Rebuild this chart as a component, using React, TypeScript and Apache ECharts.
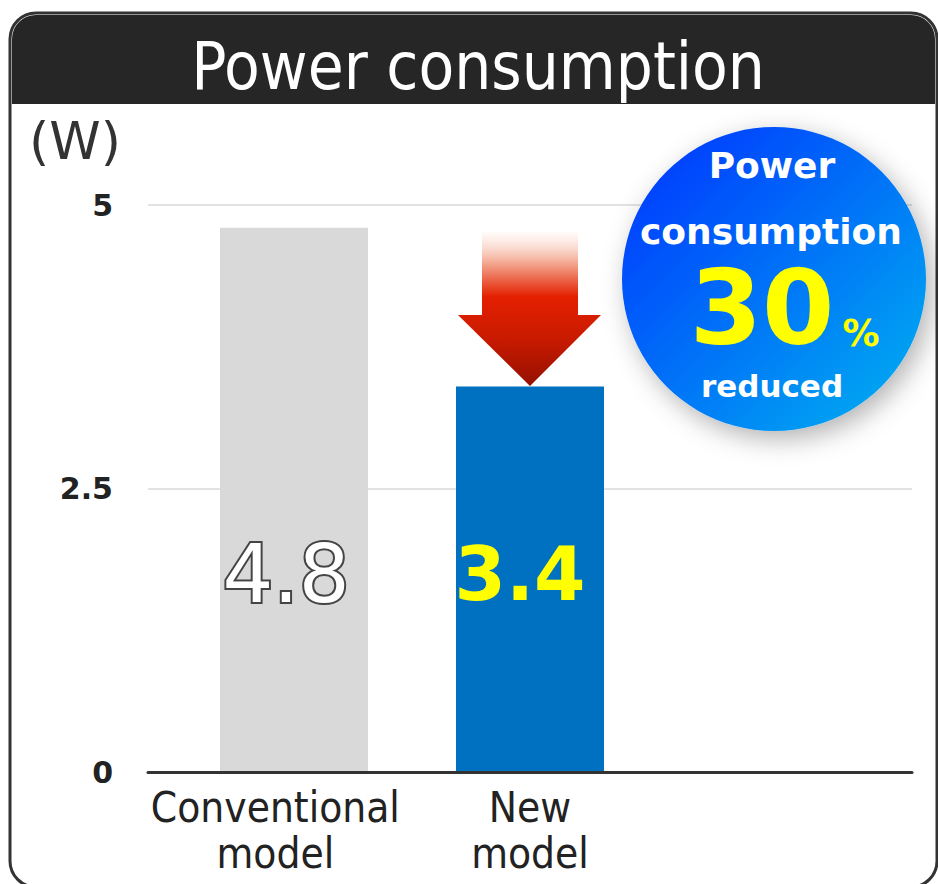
import React, { useEffect, useRef } from "react";
import * as echarts from "echarts";

const categories = ["Conventional\nmodel", "New\nmodel", ""];
const values = [4.8, 3.4];
const barColors = ["#d9d9d9", "#0070c0"];
const yMin = 0;
const yMax = 5;
const yInterval = 2.5;
const titleText = "Power consumption";
const unitText = "(W)";
const badgeLines = ["Power", "consumption", "30", "%", "reduced"];

export default function App() {
  const ref = useRef<HTMLDivElement>(null);
  useEffect(() => {
    if (!ref.current) return;
    const chart = echarts.init(ref.current, null, { renderer: "svg" });
    const condensed = "'DejaVu Sans Condensed', 'DejaVu Sans', sans-serif";
    const sans = "'DejaVu Sans', Verdana, sans-serif";
    const option: any = {
      animation: false,
      backgroundColor: "#ffffff",
      grid: [
        { left: 148, right: 26, top: 205, bottom: 112 },
        { left: 176, right: 54, top: 205, bottom: 112 },
      ],
      xAxis: [
        {
          type: "category",
          gridIndex: 0,
          data: categories,
          axisLine: { show: true, lineStyle: { color: "#333333", width: 3 } },
          axisTick: { show: false },
          axisLabel: {
            color: "#222222",
            fontFamily: condensed,
            fontSize: 42,
            lineHeight: 46,
            margin: 12,
            interval: 0,
          },
          z: 5,
        },
        {
          type: "category",
          gridIndex: 1,
          data: categories,
          show: false,
        },
      ],
      yAxis: [
        {
          type: "value",
          gridIndex: 0,
          min: yMin,
          max: yMax,
          interval: yInterval,
          axisLine: { show: false },
          axisTick: { show: false },
          axisLabel: {
            color: "#222222",
            fontFamily: sans,
            fontWeight: "bold",
            fontSize: 30,
            margin: 35,
            formatter: (v: number) => String(v),
          },
          splitLine: { show: true, lineStyle: { color: "#d9d9d9", width: 1.5 } },
        },
        {
          type: "value",
          gridIndex: 1,
          min: yMin,
          max: yMax,
          interval: yInterval,
          show: false,
          splitLine: { show: false },
        },
      ],
      series: [
        {
          type: "bar",
          xAxisIndex: 1,
          yAxisIndex: 1,
          barWidth: 148,
          z: 3,
          data: [
            {
              value: values[0],
              itemStyle: { color: barColors[0] },
              label: {
                show: true,
                position: "insideBottom",
                distance: 158,
                offset: [-8, 0],
                color: "#ffffff",
                textBorderColor: "#444444",
                textBorderWidth: 4,
                fontFamily: sans,
                fontSize: 80,
                lineHeight: 80,
                formatter: "{c}",
              },
            },
            {
              value: values[1],
              itemStyle: { color: barColors[1] },
              label: {
                show: true,
                position: "insideBottom",
                distance: 158,
                offset: [-10, 0],
                color: "#ffff00",
                fontFamily: sans,
                fontWeight: "bold",
                fontSize: 74,
                lineHeight: 80,
                formatter: "{c}",
              },
            },
          ],
        },
      ],
      graphic: [
        {
          type: "rect",
          z: -10,
          shape: { x: 10, y: 13, width: 927, height: 874, r: 26 },
          style: { fill: "#ffffff", stroke: "#333333", lineWidth: 3 },
        },
        {
          type: "rect",
          z: 10,
          shape: { x: 12, y: 15, width: 923, height: 89, r: [24, 24, 0, 0] },
          style: { fill: "#262626" },
        },
        {
          type: "text",
          z: 11,
          x: 478,
          y: 66,
          style: {
            text: titleText,
            fill: "#ffffff",
            font: `normal 65px ${condensed}`,
            align: "center",
            verticalAlign: "middle",
          },
        },
        {
          type: "text",
          z: 11,
          x: 29,
          y: 141,
          style: {
            text: unitText,
            fill: "#333333",
            font: `normal 52px ${sans}`,
            align: "left",
            verticalAlign: "middle",
          },
        },
        {
          type: "polygon",
          z: 20,
          shape: {
            points: [
              [482, 232],
              [578, 232],
              [578, 315],
              [601, 315],
              [530, 386],
              [458, 315],
              [482, 315],
            ],
          },
          style: {
            fill: new echarts.graphic.LinearGradient(0, 0, 0, 1, [
              { offset: 0, color: "rgba(255,248,244,0.5)" },
              { offset: 0.2, color: "#f3a891" },
              { offset: 0.42, color: "#e42000" },
              { offset: 0.7, color: "#c81a00" },
              { offset: 1, color: "#951000" },
            ]),
          },
        },
        {
          type: "circle",
          z: 30,
          shape: { cx: 774, cy: 279, r: 152 },
          style: {
            fill: new echarts.graphic.LinearGradient(0, 0, 1, 1, [
              { offset: 0, color: "#0030ff" },
              { offset: 1, color: "#00b4f0" },
            ]),
            shadowBlur: 26,
            shadowColor: "rgba(0,0,0,0.3)",
            shadowOffsetX: 6,
            shadowOffsetY: 8,
          },
        },
        {
          type: "text",
          z: 31,
          x: 772,
          y: 165,
          style: {
            text: badgeLines[0],
            fill: "#ffffff",
            font: `bold 36px ${sans}`,
            align: "center",
            verticalAlign: "middle",
          },
        },
        {
          type: "text",
          z: 31,
          x: 771,
          y: 231,
          style: {
            text: badgeLines[1],
            fill: "#ffffff",
            font: `bold 36px ${sans}`,
            align: "center",
            verticalAlign: "middle",
          },
        },
        {
          type: "text",
          z: 31,
          x: 762,
          y: 308,
          style: {
            text: badgeLines[2],
            fill: "#ffff00",
            font: `bold 104px ${sans}`,
            align: "center",
            verticalAlign: "middle",
          },
        },
        {
          type: "text",
          z: 31,
          x: 861,
          y: 333,
          style: {
            text: badgeLines[3],
            fill: "#ffff00",
            font: `bold 37px ${sans}`,
            align: "center",
            verticalAlign: "middle",
          },
        },
        {
          type: "text",
          z: 31,
          x: 772,
          y: 386,
          style: {
            text: badgeLines[4],
            fill: "#ffffff",
            font: `bold 31px ${sans}`,
            align: "center",
            verticalAlign: "middle",
          },
        },
      ],
    };
    chart.setOption(option);
    return () => chart.dispose();
  }, []);
  return (
    <div
      ref={ref}
      style={{ position: "absolute", left: 0, top: 0, width: 938, height: 884 }}
    />
  );
}
